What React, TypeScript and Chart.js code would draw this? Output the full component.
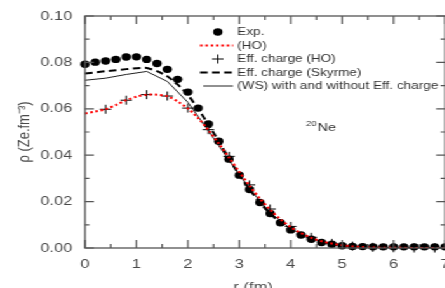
import React, { useEffect, useRef } from 'react';
import { Chart, registerables } from 'chart.js';
Chart.register(...registerables);

// ---------- data ----------
const expR = [0, 0.2, 0.4, 0.6, 0.8, 1.0, 1.2, 1.4, 1.6, 1.8, 2.0, 2.2, 2.4, 2.6, 2.8, 3.0, 3.2, 3.4, 3.6, 3.8, 4.0, 4.2, 4.4, 4.6, 4.8, 5.0, 5.2, 5.4, 5.6, 5.8, 6.0, 6.2, 6.4, 6.6, 6.8, 7.0];
const expRho = [0.0792, 0.0801, 0.0806, 0.0813, 0.0823, 0.0824, 0.0813, 0.0795, 0.0770, 0.0727, 0.0672, 0.0603, 0.0535, 0.0460, 0.0383, 0.0314, 0.0252, 0.0196, 0.0149, 0.0109, 0.0078, 0.0056, 0.0038, 0.0024, 0.0016, 0.0010, 0.0007, 0.0006, 0.0005, 0.0005, 0.0005, 0.0005, 0.0005, 0.0005, 0.0005, 0.0005];

const hoR = [0, 0.2, 0.4, 0.6, 0.8, 1.0, 1.2, 1.4, 1.6, 1.8, 2.0, 2.2, 2.4, 2.6, 2.8, 3.0, 3.2, 3.4, 3.6, 3.8, 4.0, 4.2, 4.4, 4.6, 4.8, 5.0, 5.2, 5.4, 5.6, 5.8, 6.0, 6.5, 7.0];
const hoRho = [0.0580, 0.0588, 0.0598, 0.0616, 0.0637, 0.0652, 0.0661, 0.0661, 0.0654, 0.0632, 0.0601, 0.0560, 0.0508, 0.0450, 0.0390, 0.0328, 0.0268, 0.0213, 0.0165, 0.0124, 0.0090, 0.0064, 0.0044, 0.0029, 0.0019, 0.0012, 0.0007, 0.0004, 0.0002, 0.0001, 0.0001, 0.0000, 0.0000];

const effHoR = [0.4, 0.8, 1.2, 1.6, 2.0, 2.4, 2.8, 3.2, 3.6, 4.0, 4.4, 4.8, 5.2, 5.6, 6.0, 6.4, 6.8];
const effHoRho = [0.0598, 0.0637, 0.0661, 0.0655, 0.0603, 0.0510, 0.0395, 0.0272, 0.0168, 0.0093, 0.0046, 0.0020, 0.0008, 0.0003, 0.0001, 0.0000, 0.0000];

const skyrmeR = [0, 0.2, 0.4, 0.6, 0.8, 1.0, 1.2, 1.4, 1.6, 1.8, 2.0, 2.2, 2.4, 2.6, 2.8, 3.0, 3.2, 3.4, 3.6, 3.8, 4.0, 4.2, 4.4, 4.6, 4.8, 5.0, 5.2, 5.4, 5.6, 5.8, 6.0, 6.5, 7.0];
const skyrmeRho = [0.0752, 0.0757, 0.0762, 0.0766, 0.0771, 0.0775, 0.0776, 0.0762, 0.0740, 0.0705, 0.0660, 0.0600, 0.0532, 0.0460, 0.0385, 0.0315, 0.0252, 0.0196, 0.0148, 0.0108, 0.0077, 0.0053, 0.0036, 0.0023, 0.0015, 0.0009, 0.0005, 0.0003, 0.0002, 0.0001, 0.0001, 0.0000, 0.0000];

const wsR = [0, 0.4, 0.8, 1.2, 1.6, 2.0, 2.4, 2.8, 3.2, 3.6, 4.0, 4.4, 4.8, 5.2, 5.6, 6.0, 6.4, 6.8, 7.0];
const wsRho = [0.0723, 0.0732, 0.0748, 0.0761, 0.0718, 0.0628, 0.0505, 0.0378, 0.0255, 0.0152, 0.0082, 0.0040, 0.0018, 0.0007, 0.0003, 0.0001, 0.0000, 0.0000, 0.0000];

const seriesLabels = ['Exp.', '(HO)', 'Eff. charge (HO)', 'Eff. charge (Skyrme)', '(WS) with and without Eff. charge'];
const yTitle = 'ρ (Ze.fm⁻³)';
const xTitle = 'r (fm)';
const nucleusMass = '20';
const nucleusName = 'Ne';

// ---------- layout / style ----------
const STRETCH = 1.27;
const CANVAS_W = 356;
const CANVAS_H = 300;
const FONT = '"Liberation Sans", Arial, sans-serif';
const AXIS_COLOR = '#555';
const TEXT_COLOR = '#4a4a4a';

const pts = (xs: number[], ys: number[]) => xs.map((x, i) => ({ x, y: ys[i] }));

const framePlugin = {
  id: 'frameAndLegend',
  afterDraw(chart: any) {
    const { ctx, chartArea: a, scales } = chart;
    const xs = scales.x;
    const ys = scales.y;
    ctx.save();
    // frame
    ctx.strokeStyle = AXIS_COLOR;
    ctx.lineWidth = 1.3;
    ctx.strokeRect(a.left, a.top, a.right - a.left, a.bottom - a.top);
    // inward ticks
    ctx.lineWidth = 1.2;
    ctx.beginPath();
    const xStep = 1;
    xs.ticks.forEach((t: any) => {
      const p = xs.getPixelForValue(t.value);
      ctx.moveTo(p, a.bottom); ctx.lineTo(p, a.bottom - 8);
      ctx.moveTo(p, a.top); ctx.lineTo(p, a.top + 8);
      const m = t.value + xStep / 2;
      if (m < xs.max) {
        const pm = xs.getPixelForValue(m);
        ctx.moveTo(pm, a.bottom); ctx.lineTo(pm, a.bottom - 4);
        ctx.moveTo(pm, a.top); ctx.lineTo(pm, a.top + 4);
      }
    });
    const yStep = 0.02;
    ys.ticks.forEach((t: any) => {
      const p = ys.getPixelForValue(t.value);
      ctx.moveTo(a.left, p); ctx.lineTo(a.left + 7, p);
      ctx.moveTo(a.right, p); ctx.lineTo(a.right - 7, p);
      const m = t.value + yStep / 2;
      if (m < ys.max) {
        const pm = ys.getPixelForValue(m);
        ctx.moveTo(a.left, pm); ctx.lineTo(a.left + 3.5, pm);
        ctx.moveTo(a.right, pm); ctx.lineTo(a.right - 3.5, pm);
      }
    });
    ctx.stroke();

    // x title
    ctx.fillStyle = TEXT_COLOR;
    ctx.font = `13px ${FONT}`;
    ctx.textAlign = 'center';
    ctx.textBaseline = 'alphabetic';
    ctx.fillText(xTitle, xs.getPixelForValue(3.27), 291);

    // nucleus annotation
    const nx = xs.getPixelForValue(4.3);
    const ny = ys.getPixelForValue(0.0507);
    ctx.textAlign = 'left';
    ctx.font = `7.5px ${FONT}`;
    ctx.fillStyle = '#333';
    ctx.fillText(nucleusMass, nx, ny - 4);
    const mw = ctx.measureText(nucleusMass).width;
    ctx.font = `11.5px ${FONT}`;
    ctx.fillText(nucleusName, nx + mw + 0.5, ny + 0.5);

    // legend
    const ds = chart.data.datasets;
    const lx0 = 157.5, lx1 = 183.5, tx = 186.8;
    const rows = [32, 45.5, 59, 72.5, 86];
    ctx.font = `10.7px ${FONT}`;
    ctx.textBaseline = 'middle';
    ds.forEach((d: any, i: number) => {
      const y = rows[i];
      ctx.save();
      if (d.showLine === false) {
        const cx = (lx0 + lx1) / 2 + 1;
        if (d.pointStyle === 'cross') {
          ctx.strokeStyle = d.borderColor;
          ctx.lineWidth = 1;
          ctx.beginPath();
          ctx.moveTo(cx - 4.5, y); ctx.lineTo(cx + 4.5, y);
          ctx.moveTo(cx, y - 4.5); ctx.lineTo(cx, y + 4.5);
          ctx.stroke();
        } else {
          ctx.fillStyle = d.backgroundColor;
          ctx.beginPath();
          ctx.arc(cx, y, d.pointRadius, 0, Math.PI * 2);
          ctx.fill();
        }
      } else {
        ctx.strokeStyle = d.borderColor;
        ctx.lineWidth = d.borderWidth;
        ctx.setLineDash(d.borderDash || []);
        ctx.beginPath();
        ctx.moveTo(i === 4 ? lx0 + 2.5 : lx0, y);
        ctx.lineTo(lx1, y);
        ctx.stroke();
      }
      ctx.restore();
      ctx.fillStyle = '#333';
      ctx.fillText(d.label, tx, y + 0.5);
    });
    ctx.restore();
  },
};

export default function App() {
  const ref = useRef<HTMLCanvasElement>(null);
  useEffect(() => {
    const chart = new Chart(ref.current as HTMLCanvasElement, {
      type: 'scatter',
      data: {
        datasets: [
          {
            label: seriesLabels[0],
            data: pts(expR, expRho),
            showLine: false,
            pointStyle: 'circle',
            pointRadius: 3.7,
            backgroundColor: '#000',
            borderColor: '#000',
            borderWidth: 0,
            clip: false,
            order: 2,
          },
          {
            label: seriesLabels[1],
            data: pts(hoR, hoRho),
            showLine: true,
            pointRadius: 0,
            borderColor: '#ff0000',
            backgroundColor: '#ff0000',
            borderWidth: 2,
            borderDash: [2, 2.2],
            tension: 0.3,
            order: 0,
          },
          {
            label: seriesLabels[2],
            data: pts(effHoR, effHoRho),
            showLine: false,
            pointStyle: 'cross',
            pointRadius: 4.5,
            borderColor: '#000',
            backgroundColor: '#000',
            borderWidth: 1,
            clip: false,
            order: 1,
          },
          {
            label: seriesLabels[3],
            data: pts(skyrmeR, skyrmeRho),
            showLine: true,
            pointRadius: 0,
            borderColor: '#000',
            backgroundColor: '#000',
            borderWidth: 2,
            borderDash: [6, 3.5],
            tension: 0.2,
            order: 3,
          },
          {
            label: seriesLabels[4],
            data: pts(wsR, wsRho),
            showLine: true,
            pointRadius: 0,
            borderColor: '#222',
            backgroundColor: '#222',
            borderWidth: 1,
            tension: 0,
            order: 4,
          },
        ],
      },
      options: {
        animation: false,
        responsive: true,
        maintainAspectRatio: false,
        events: [],
        layout: { padding: { left: 0, top: 16, right: CANVAS_W - 445 / STRETCH, bottom: 0 } },
        plugins: { legend: { display: false }, tooltip: { enabled: false } },
        scales: {
          x: {
            type: 'linear',
            min: 0,
            max: 7,
            grid: { display: false, drawTicks: false },
            border: { display: false },
            ticks: {
              stepSize: 1,
              padding: 9,
              color: TEXT_COLOR,
              font: { family: FONT, size: 13 },
              callback: (v: any) => String(v),
            },
            afterFit: (s: any) => {
              s.height = CANVAS_H - 248;
              s.paddingLeft = 0;
              s.paddingRight = 0;
            },
          },
          y: {
            type: 'linear',
            min: 0,
            max: 0.1,
            grid: { display: false, drawTicks: false },
            border: { display: false },
            ticks: {
              stepSize: 0.02,
              padding: 10,
              color: TEXT_COLOR,
              font: { family: FONT, size: 13 },
              callback: (v: any) => Number(v).toFixed(2),
            },
            title: {
              display: true,
              text: yTitle,
              color: TEXT_COLOR,
              font: { family: FONT, size: 13 },
              padding: { top: 12, bottom: 0 },
            },
            afterFit: (s: any) => {
              s.width = 85 / STRETCH;
              s.paddingTop = 0;
              s.paddingBottom = 0;
            },
          },
        },
      },
      plugins: [framePlugin],
    } as any);
    return () => chart.destroy();
  }, []);
  return (
    <div
      style={{
        position: 'fixed',
        left: 0,
        top: 0,
        width: CANVAS_W,
        height: CANVAS_H,
        transform: `scaleX(${STRETCH})`,
        transformOrigin: '0 0',
        background: '#fff',
      }}
    >
      <canvas ref={ref} />
    </div>
  );
}
